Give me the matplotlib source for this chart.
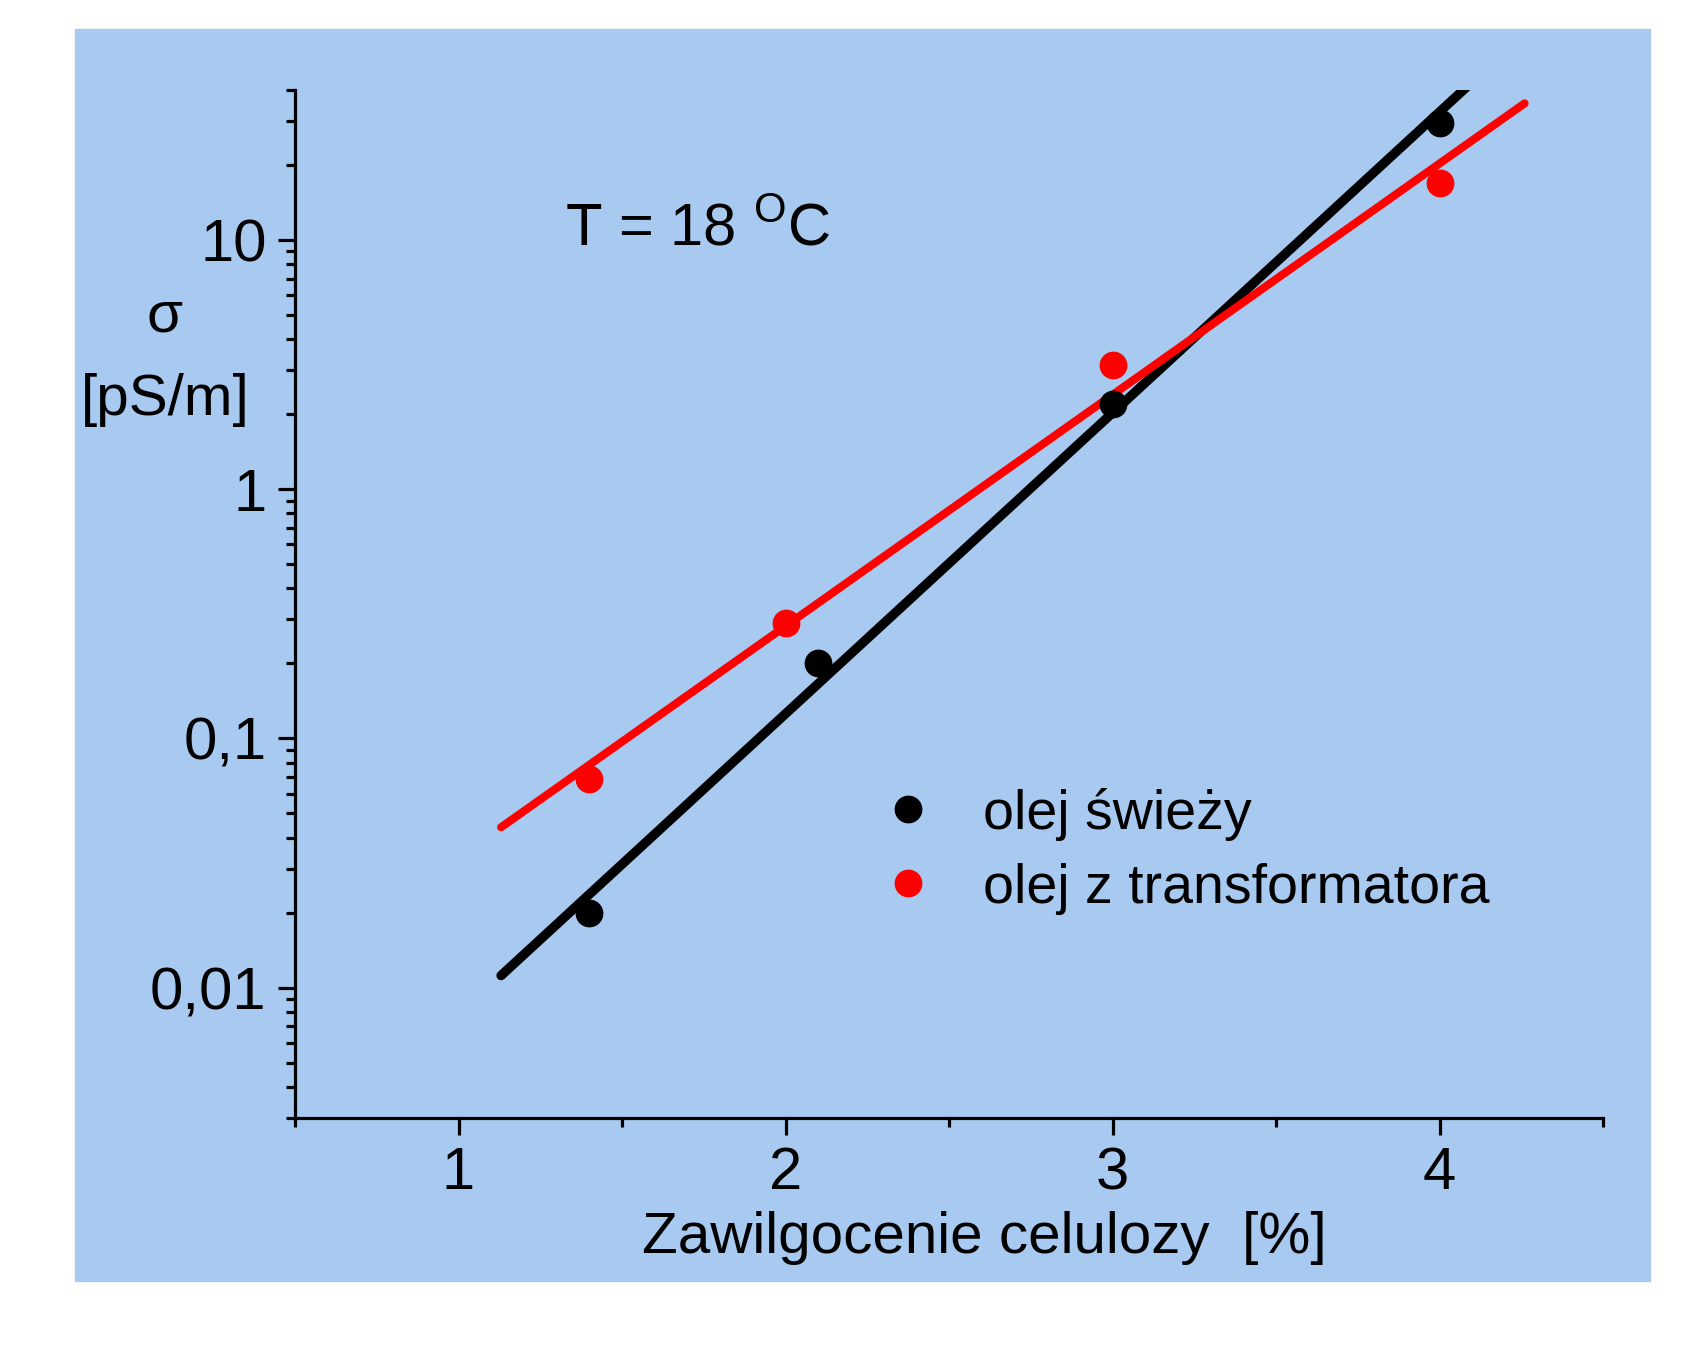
import numpy as np
import matplotlib
matplotlib.use("Agg")
import matplotlib.pyplot as plt
from matplotlib.patches import Rectangle
from matplotlib.ticker import LogLocator, FixedLocator, NullFormatter

plt.rcParams['font.family'] = ['Liberation Sans', 'DejaVu Sans']
plt.rcParams['mathtext.fontset'] = 'custom'
plt.rcParams['mathtext.rm'] = 'Liberation Sans'

# data: olej swiezy (black) and olej z transformatora (red)
x_fresh = [1.4, 2.1, 3.0, 4.0]
y_fresh = [0.020, 0.20, 2.2, 29.5]
x_trafo = [1.4, 2.0, 3.0, 4.0]
y_trafo = [0.069, 0.29, 3.15, 17.0]

fit_range = [1.13, 4.26]

xticks = [1, 2, 3, 4]
xtick_labels = ['1', '2', '3', '4']
yticks = [0.01, 0.1, 1, 10]
ytick_labels = ['0,01', '0,1', '1', '10']

fig = plt.figure(figsize=(16.85, 13.6), dpi=100)
fig.patches.append(Rectangle((0.0445, 0.058), 0.9347, 0.9206,
                             transform=fig.transFigure, color='#A8CAF0', zorder=-1))
ax = fig.add_axes([0.1751, 0.178, 0.7763, 0.7559])
ax.set_facecolor('none')

# linear fits in log scale
xf = np.linspace(fit_range[0], fit_range[1], 50)
for xs, ys, col, lw in [(x_fresh, y_fresh, 'black', 6.8), (x_trafo, y_trafo, 'red', 5.8)]:
    k, b = np.polyfit(xs, np.log10(ys), 1)
    ax.plot(xf, 10 ** (k * xf + b), color=col, lw=lw, solid_capstyle='round', zorder=2)

ax.plot(x_fresh, y_fresh, 'o', color='black', ms=19, ls='none', label='olej świeży', zorder=3)
ax.plot(x_trafo, y_trafo, 'o', color='red', ms=19, ls='none', label='olej z transformatora', zorder=3)

ax.set_yscale('log')
ax.set_xlim(0.5, 4.5)
ax.set_ylim(0.003, 40)

ax.set_xticks(xticks)
ax.set_xticklabels(xtick_labels)
ax.xaxis.set_minor_locator(FixedLocator([0.5, 1.5, 2.5, 3.5, 4.5]))
ax.yaxis.set_major_locator(FixedLocator(yticks))
ax.set_yticklabels(ytick_labels)
ax.yaxis.set_minor_locator(LogLocator(base=10, subs=np.arange(2, 10)))
ax.yaxis.set_minor_formatter(NullFormatter())

for s in ['top', 'right']:
    ax.spines[s].set_visible(False)
for s in ['left', 'bottom']:
    ax.spines[s].set_linewidth(2.3)

ax.tick_params(which='major', direction='out', length=12.5, width=2.3, labelsize=43, pad=8)
ax.tick_params(which='minor', direction='out', length=6.5, width=2.3)

ax.set_xlabel('Zawilgocenie celulozy  [%]', fontsize=42)
ax.xaxis.set_label_coords(0.5268, -0.1313)
ax.xaxis.label.set_va('baseline')

ax.text(-0.0994, 0.739, 'σ\n[pS/m]', transform=ax.transAxes, fontsize=42,
        ha='center', va='center', ma='center', linespacing=1.72)

ax.text(0.2064, 0.849, r'T = 18 $^{\mathregular{O}}$C', transform=ax.transAxes,
        fontsize=43, ha='left', va='baseline')

ax.legend(loc='upper left', bbox_to_anchor=(0.447, 0.321), frameon=False, fontsize=40,
          borderpad=0, borderaxespad=0, handlelength=1.0, handletextpad=0.85,
          labelspacing=0.39, markerscale=1.0)

fig.savefig('out.png', dpi=100)
